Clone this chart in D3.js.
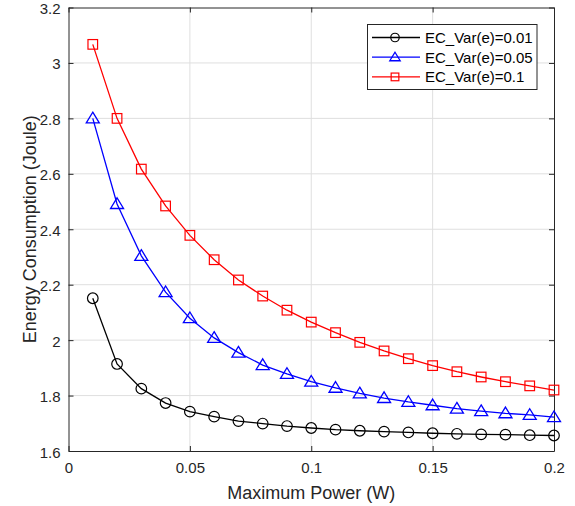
<!DOCTYPE html>
<html><head><meta charset="utf-8">
<script src="https://cdn.jsdelivr.net/npm/d3@7"></script>
<style>body{margin:0;background:#fff}svg{display:block}text{font-family:"Liberation Sans",Arial,sans-serif}</style>
</head><body><svg id="c" width="575" height="506"></svg>
<script>
const power = [0.01,0.02,0.03,0.04,0.05,0.06,0.07,0.08,0.09,0.10,0.11,0.12,0.13,0.14,0.15,0.16,0.17,0.18,0.19,0.20];
const ecVar001 = [2.151,1.914,1.825,1.773,1.742,1.724,1.708,1.699,1.690,1.683,1.677,1.673,1.670,1.667,1.664,1.662,1.660,1.659,1.657,1.656];
const ecVar005 = [2.800,2.491,2.304,2.173,2.079,2.008,1.955,1.910,1.878,1.850,1.828,1.808,1.791,1.777,1.765,1.753,1.744,1.736,1.730,1.722];
const ecVar01  = [3.067,2.800,2.617,2.484,2.378,2.290,2.217,2.159,2.108,2.065,2.027,1.992,1.961,1.933,1.908,1.886,1.867,1.850,1.835,1.820];
const seriesNames = ["EC_Var(e)=0.01","EC_Var(e)=0.05","EC_Var(e)=0.1"];
const xTicks = [0,0.05,0.1,0.15,0.2];
const yTicks = [1.6,1.8,2,2.2,2.4,2.6,2.8,3,3.2];

const series = [
  {name:seriesNames[0], values:ecVar001, color:"#000000", marker:"circle"},
  {name:seriesNames[1], values:ecVar005, color:"#0000ff", marker:"triangle"},
  {name:seriesNames[2], values:ecVar01,  color:"#ff0000", marker:"square"}
];

const L=68.5, R=554, T=7.5, B=451;
const svg = d3.select("#c");
const x = d3.scaleLinear().domain([0,0.2]).range([L,R]);
const y = d3.scaleLinear().domain([1.6,3.2]).range([B,T]);
const axisCol = "#262626";
const FONT = "'Liberation Sans',Arial,sans-serif";

// grid
const g = svg.append("g");
g.selectAll(".gx").data(xTicks.slice(1,-1)).enter().append("line")
  .attr("x1",d=>x(d)).attr("x2",d=>x(d)).attr("y1",T).attr("y2",B)
  .attr("stroke","#dfdfdf").attr("stroke-width",1);
g.selectAll(".gy").data(yTicks.slice(1,-1)).enter().append("line")
  .attr("y1",d=>y(d)).attr("y2",d=>y(d)).attr("x1",L).attr("x2",R)
  .attr("stroke","#dfdfdf").attr("stroke-width",1);

// axes
const fmt = d=>String(+d.toFixed(2));
const xa = svg.append("g").attr("transform",`translate(0,${B})`)
  .call(d3.axisBottom(x).tickValues(xTicks).tickSizeInner(-5).tickSizeOuter(0).tickPadding(11).tickFormat(fmt));
const xt = svg.append("g").attr("transform",`translate(0,${T})`)
  .call(d3.axisTop(x).tickValues(xTicks).tickSizeInner(-5).tickSizeOuter(0).tickFormat(""));
const ya = svg.append("g").attr("transform",`translate(${L},0)`)
  .call(d3.axisLeft(y).tickValues(yTicks).tickSizeInner(-5).tickSizeOuter(0).tickPadding(8).tickFormat(fmt));
const yr = svg.append("g").attr("transform",`translate(${R},0)`)
  .call(d3.axisRight(y).tickValues(yTicks).tickSizeInner(-5).tickSizeOuter(0).tickFormat(""));
[xa,xt,ya,yr].forEach(a=>{
  a.select(".domain").attr("stroke",axisCol).attr("stroke-width",1);
  a.selectAll(".tick line").attr("stroke",axisCol);
  a.selectAll(".tick text").attr("fill",axisCol).style("font-size","15px").style("font-family",FONT);
});
ya.selectAll(".tick text").attr("dy","0.4em");

// labels
svg.append("text").attr("x",(L+R)/2).attr("y",499).attr("text-anchor","middle")
  .attr("fill",axisCol).style("font-size","18px").text("Maximum Power (W)");
svg.append("text").attr("transform",`translate(36,${(T+B)/2}) rotate(-90)`).attr("text-anchor","middle")
  .attr("fill",axisCol).style("font-size","18px").text("Energy Consumption (Joule)");

function drawMarker(sel, type, color, cx, cy, k=1){
  if(type==="circle") sel.append("circle").attr("cx",cx).attr("cy",cy).attr("r",5.3*k)
     .attr("fill","none").attr("stroke",color).attr("stroke-width",1.2);
  else if(type==="square") sel.append("rect").attr("x",cx-4.8*k).attr("y",cy-4.8*k).attr("width",9.6*k).attr("height",9.6*k)
     .attr("fill","none").attr("stroke",color).attr("stroke-width",1.2);
  else { const s=6.2*k; sel.append("path").attr("d",`M${cx},${cy-s}L${cx+s*1.05},${cy+s*0.72}L${cx-s*1.05},${cy+s*0.72}Z`)
     .attr("fill","none").attr("stroke",color).attr("stroke-width",1.3); }
}

const line = d3.line().x((d,i)=>x(power[i])).y(d=>y(d));
series.forEach(s=>{
  const gs = svg.append("g");
  gs.append("path").attr("d",line(s.values)).attr("fill","none").attr("stroke",s.color).attr("stroke-width",1.3);
  s.values.forEach((v,i)=>drawMarker(gs,s.marker,s.color,x(power[i]),y(v)));
});

// legend
const lg = svg.append("g");
lg.append("rect").attr("x",367.5).attr("y",24.5).attr("width",169.5).attr("height",65)
  .attr("fill","#fff").attr("stroke",axisCol).attr("stroke-width",1);
series.forEach((s,i)=>{
  const yy = 37.5 + i*19.7;
  lg.append("line").attr("x1",372).attr("x2",420).attr("y1",yy).attr("y2",yy).attr("stroke",s.color).attr("stroke-width",1.3);
  drawMarker(lg,s.marker,s.color,395,yy,0.8);
  lg.append("text").attr("x",425).attr("y",yy+5.5).attr("fill","#000").style("font-size","15px").text(s.name);
});
</script></body></html>
